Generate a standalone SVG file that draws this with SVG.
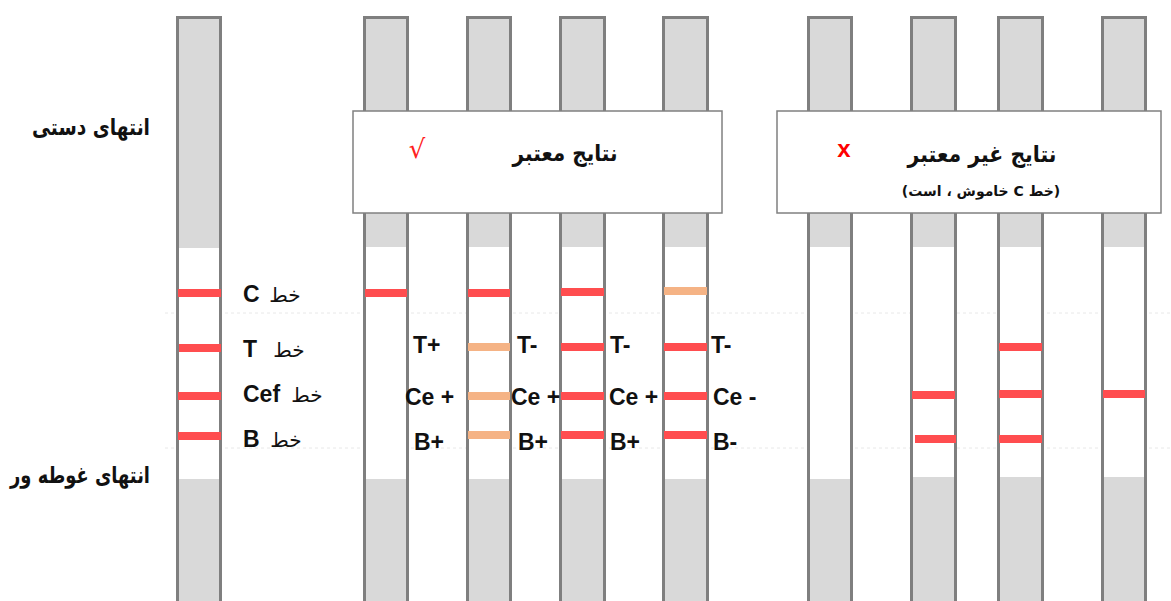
<svg xmlns="http://www.w3.org/2000/svg" width="1171" height="601" viewBox="0 0 1171 601">
<style>
.g{fill:#d9d9d9}
.w{fill:#ffffff}
.f{fill:none;stroke:#7f7f7f;stroke-width:3}
.r{fill:#ff4d4f}
.o{fill:#f5b385}
.box{fill:#ffffff;stroke:#808080;stroke-width:1.5}
.lat{font-family:"Liberation Sans",Arial,sans-serif;font-weight:bold;font-size:23px;fill:#111}
.ar{font-family:"DejaVu Sans",sans-serif;font-size:20px;fill:#111}
.arb{font-family:"DejaVu Sans",sans-serif;font-weight:bold;font-size:23px;fill:#111}
.dash{stroke:#e8e8e8;stroke-width:1;stroke-dasharray:3 3}
</style>
<rect x="0" y="0" width="1171" height="601" fill="#ffffff"/>
<line class="dash" x1="165" y1="313" x2="1171" y2="313"/>
<line class="dash" x1="165" y1="448" x2="1171" y2="448"/>

<g id="strip1"><rect class="w" x="176" y="16" width="46" height="600"/><rect class="g" x="176" y="16" width="46" height="232"/><rect class="g" x="176" y="479" width="46" height="130"/><rect class="f" x="177.5" y="17.5" width="43" height="600"/>
<rect class="r" x="178" y="289" width="43" height="8"/><rect class="r" x="179" y="344" width="42" height="8"/><rect class="r" x="178" y="392" width="43" height="8"/><rect class="r" x="178" y="432" width="43" height="8"/></g>
<g id="strip2"><rect class="w" x="363" y="16" width="46" height="600"/><rect class="g" x="363" y="16" width="46" height="231"/><rect class="g" x="363" y="479" width="46" height="130"/><rect class="f" x="364.5" y="17.5" width="43" height="600"/>
<rect class="r" x="365" y="289" width="42" height="8"/></g>
<g id="strip3"><rect class="w" x="466" y="16" width="46" height="600"/><rect class="g" x="466" y="16" width="46" height="231"/><rect class="g" x="466" y="479" width="46" height="130"/><rect class="f" x="467.5" y="17.5" width="43" height="600"/>
<rect class="r" x="468" y="289" width="42" height="8"/><rect class="o" x="468" y="343" width="42" height="8"/><rect class="o" x="468" y="392" width="42" height="8"/><rect class="o" x="468" y="431" width="42" height="8"/></g>
<g id="strip4"><rect class="w" x="559" y="16" width="47" height="600"/><rect class="g" x="559" y="16" width="47" height="231"/><rect class="g" x="559" y="479" width="47" height="130"/><rect class="f" x="560.5" y="17.5" width="44" height="600"/>
<rect class="r" x="561" y="288" width="43" height="8"/><rect class="r" x="561" y="343" width="43" height="8"/><rect class="r" x="561" y="392" width="43" height="8"/><rect class="r" x="561" y="431" width="43" height="8"/></g>
<g id="strip5"><rect class="w" x="662" y="16" width="47" height="600"/><rect class="g" x="662" y="16" width="47" height="231"/><rect class="g" x="662" y="479" width="47" height="130"/><rect class="f" x="663.5" y="17.5" width="44" height="600"/>
<rect class="o" x="664" y="287" width="43" height="8"/><rect class="r" x="664" y="343" width="43" height="8"/><rect class="r" x="664" y="392" width="43" height="8"/><rect class="r" x="664" y="431" width="43" height="8"/></g>
<g id="strip6"><rect class="w" x="807" y="16" width="46" height="600"/><rect class="g" x="807" y="16" width="46" height="231"/><rect class="g" x="807" y="479" width="46" height="130"/><rect class="f" x="808.5" y="17.5" width="43" height="600"/></g>
<g id="strip7"><rect class="w" x="910" y="16" width="47" height="600"/><rect class="g" x="910" y="16" width="47" height="231"/><rect class="g" x="910" y="477" width="47" height="130"/><rect class="f" x="911.5" y="17.5" width="44" height="600"/>
<rect class="r" x="912" y="391" width="43" height="8"/><rect class="r" x="915" y="435" width="41" height="8"/></g>
<g id="strip8"><rect class="w" x="997" y="16" width="47" height="600"/><rect class="g" x="997" y="16" width="47" height="231"/><rect class="g" x="997" y="477" width="47" height="130"/><rect class="f" x="998.5" y="17.5" width="44" height="600"/>
<rect class="r" x="999" y="343" width="43" height="8"/><rect class="r" x="999" y="390" width="43" height="8"/><rect class="r" x="999" y="435" width="43" height="8"/></g>
<g id="strip9"><rect class="w" x="1101" y="16" width="46" height="600"/><rect class="g" x="1101" y="16" width="46" height="231"/><rect class="g" x="1101" y="477" width="46" height="130"/><rect class="f" x="1102.5" y="17.5" width="43" height="600"/>
<rect class="r" x="1103" y="390" width="42" height="8"/></g>

<g id="box-valid"><rect class="box" x="353" y="111" width="369" height="102"/>
<text x="565" y="161" class="arb" text-anchor="middle" textLength="105" lengthAdjust="spacingAndGlyphs">نتایج معتبر</text>
<text x="417" y="158" font-family="DejaVu Sans,sans-serif" font-size="26" fill="#ff2020" text-anchor="middle">√</text></g>
<g id="box-invalid"><rect class="box" x="777" y="111" width="384" height="102"/>
<text x="982" y="162" class="arb" text-anchor="middle" textLength="149" lengthAdjust="spacingAndGlyphs">نتایج غیر معتبر</text>
<text x="844" y="157" font-family="Liberation Sans,Arial,sans-serif" font-weight="bold" font-size="24" fill="#ff0000" text-anchor="middle">x</text>
<text x="981" y="196" font-family="DejaVu Sans,sans-serif" font-weight="bold" font-size="14" fill="#111" text-anchor="middle" direction="rtl">(خط C خاموش ، است)</text></g>

<g id="label-hand"><text x="91" y="135" class="arb" text-anchor="middle" textLength="118" lengthAdjust="spacingAndGlyphs">انتهای دستی</text></g>
<g id="label-dip"><text x="80" y="483" class="arb" text-anchor="middle" textLength="140" lengthAdjust="spacingAndGlyphs">انتهای غوطه ور</text></g>

<g id="legend">
<text x="243" y="302" class="lat">C</text><text x="285" y="302" class="ar" text-anchor="middle">خط</text>
<text x="243" y="357" class="lat">T</text><text x="289" y="357" class="ar" text-anchor="middle">خط</text>
<text x="243" y="402" class="lat">Cef</text><text x="307" y="402" class="ar" text-anchor="middle">خط</text>
<text x="243" y="447" class="lat">B</text><text x="286" y="447" class="ar" text-anchor="middle">خط</text>
</g>

<g id="results">
<text x="413" y="353" class="lat">T+</text><text x="517" y="353" class="lat">T-</text><text x="610" y="353" class="lat">T-</text><text x="711" y="353" class="lat">T-</text>
<text x="405" y="405" class="lat">Ce +</text><text x="511" y="405" class="lat">Ce +</text><text x="609" y="405" class="lat">Ce +</text><text x="713" y="405" class="lat">Ce -</text>
<text x="414" y="450" class="lat">B+</text><text x="518" y="450" class="lat">B+</text><text x="610" y="450" class="lat">B+</text><text x="713" y="450" class="lat">B-</text>
</g>
<g id="connectors"/>
</svg>
